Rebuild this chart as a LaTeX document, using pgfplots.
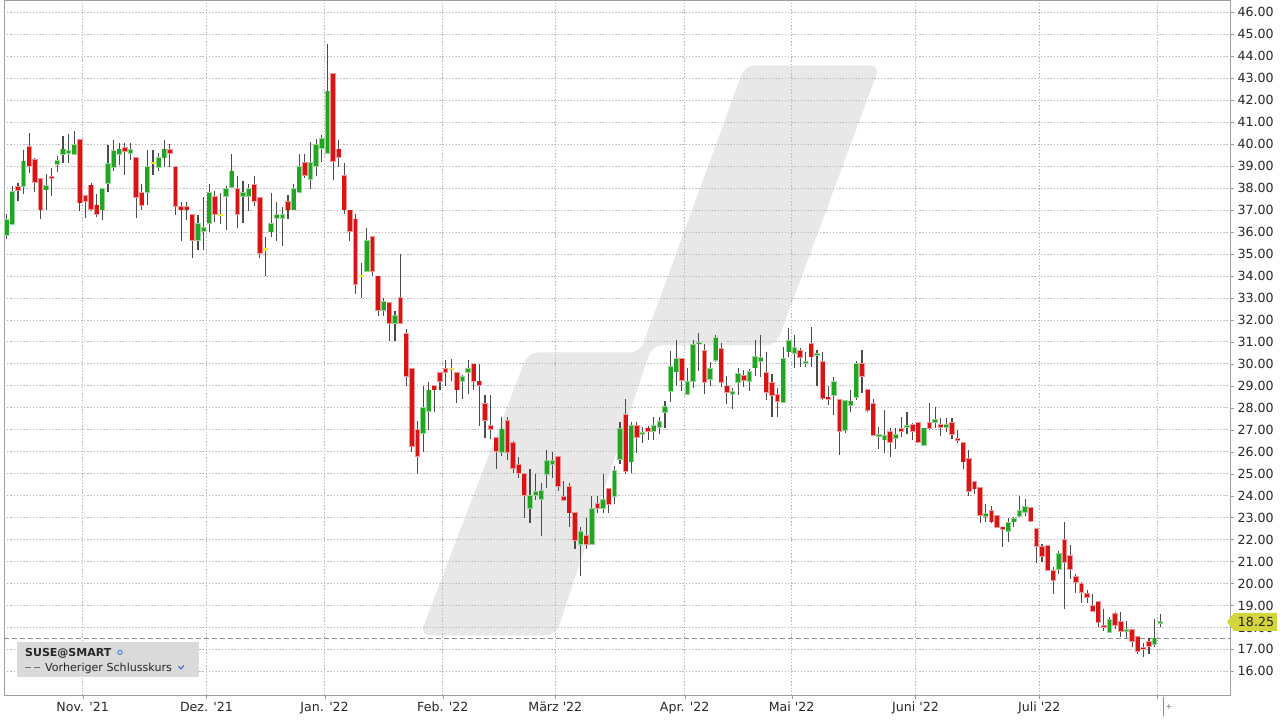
\documentclass[border=0pt]{standalone}
\usepackage{pgfplots}
\pgfplotsset{compat=1.18}
\usepackage{pgfplotstable}
\usepackage{fontspec}
\setmainfont{DejaVu Sans}
\definecolor{gBody}{RGB}{34,165,34}
\definecolor{gOut}{RGB}{150,212,150}
\definecolor{rBody}{RGB}{214,22,22}
\definecolor{rOut}{RGB}{240,150,150}
\definecolor{yBody}{RGB}{235,235,50}
\definecolor{wickc}{RGB}{75,75,75}
\definecolor{wm}{RGB}{232,232,232}
\definecolor{tagc}{RGB}{212,212,62}
\definecolor{iconblue}{RGB}{50,100,200}

\pgfplotstableread{
i o h l c
0 35.87 36.80 35.69 36.55
1 36.37 38.10 36.30 37.81
2 38.04 38.22 37.43 37.89
3 38.09 39.74 37.74 39.21
4 39.89 40.51 38.68 39.00
5 39.30 39.35 37.81 38.27
6 38.41 38.45 36.60 37.02
7 37.93 38.65 37.02 38.10
8 38.50 38.91 37.65 38.44
9 39.09 39.48 38.72 39.25
10 39.56 40.36 39.15 39.76
11 39.60 40.44 39.15 39.68
12 39.53 40.58 39.50 39.98
13 40.20 40.22 36.95 37.34
14 37.65 37.70 36.63 37.39
15 38.12 38.24 36.95 37.05
16 37.21 37.71 36.68 36.83
17 37.02 38.00 36.55 37.97
18 38.24 39.98 37.81 39.10
19 38.95 40.21 38.80 39.68
20 39.56 40.06 39.07 39.76
21 39.82 40.06 38.60 39.68
22 39.60 40.06 39.29 39.74
23 39.38 39.40 36.63 37.59
24 37.78 38.19 36.98 37.24
25 37.81 39.74 37.21 38.98
26 39.15 39.74 38.60 39.15
27 38.97 39.60 38.77 39.36
28 39.39 40.20 38.97 39.76
29 39.74 40.00 38.97 39.59
30 38.97 38.97 36.77 37.20
31 37.15 37.38 35.58 37.02
32 37.15 37.38 36.56 37.02
33 36.77 36.77 34.80 35.64
34 35.64 36.77 35.18 36.36
35 36.03 37.58 35.18 36.18
36 36.41 38.18 35.98 37.77
37 37.58 37.88 36.44 36.82
38 36.77 37.77 36.36 36.77
39 37.62 38.11 36.11 37.95
40 38.03 39.55 38.00 38.76
41 37.95 38.56 36.18 36.82
42 37.62 38.33 36.39 37.76
43 37.62 38.18 36.97 37.95
44 38.15 38.56 37.20 37.39
45 37.55 37.55 34.80 35.03
46 35.20 35.79 34.00 35.20
47 36.02 37.77 35.79 36.36
48 36.62 37.38 35.61 36.77
49 36.62 37.15 35.38 36.77
50 37.38 37.68 36.59 37.02
51 37.02 38.18 37.00 37.95
52 37.80 39.55 37.80 38.97
53 39.14 39.55 38.48 38.61
54 38.41 40.08 37.95 39.14
55 39.00 40.22 38.57 39.97
56 39.82 40.43 39.18 40.22
57 39.61 44.58 39.60 42.40
58 43.18 43.20 38.38 39.21
59 39.76 40.20 38.98 39.41
60 38.57 39.15 36.80 37.02
61 36.98 37.00 35.58 36.04
62 36.57 36.80 33.18 33.64
63 33.98 34.59 33.00 33.98
64 34.24 36.19 34.20 35.58
65 35.79 35.80 33.98 34.24
66 33.98 34.00 32.19 32.45
67 32.45 33.00 32.19 32.80
68 32.77 32.80 31.05 31.84
69 31.84 32.39 31.05 32.19
70 33.00 35.00 31.80 31.84
71 31.37 31.57 28.98 29.44
72 29.78 29.80 25.98 26.25
73 27.00 27.39 24.99 25.82
74 26.84 28.97 26.00 28.00
75 27.84 29.17 27.00 28.79
76 28.98 29.00 27.80 28.83
77 29.58 29.60 28.79 29.21
78 29.78 30.19 28.98 29.62
79 29.75 30.20 29.21 29.75
80 29.58 29.60 28.21 28.83
81 29.21 29.50 28.41 29.40
82 29.62 30.19 28.64 29.78
83 29.97 30.00 28.79 29.21
84 29.20 29.97 27.19 29.02
85 28.18 28.59 26.61 27.45
86 27.19 28.59 26.58 27.01
87 26.61 26.61 25.22 26.02
88 26.00 27.60 25.82 27.01
89 27.39 27.60 25.63 26.00
90 26.40 26.50 25.02 25.26
91 25.39 25.77 24.79 25.02
92 24.97 25.00 22.97 24.02
93 23.42 25.20 22.77 23.98
94 24.02 24.97 23.79 24.18
95 23.83 24.59 22.17 24.21
96 25.00 26.06 24.36 25.58
97 25.42 26.00 24.79 25.58
98 25.77 25.80 24.21 24.44
99 23.95 24.67 23.79 23.80
100 24.39 24.59 22.55 23.23
101 23.20 23.20 21.56 21.98
102 21.79 22.58 20.35 22.36
103 22.17 23.00 21.56 21.79
104 21.79 23.98 21.79 23.41
105 23.61 23.98 23.23 23.42
106 23.42 25.00 23.23 23.80
107 24.32 24.32 23.23 23.61
108 23.98 25.35 23.61 25.12
109 25.65 27.36 25.45 27.02
110 27.67 28.38 25.00 25.12
111 25.55 27.36 25.05 27.17
112 27.17 27.36 25.95 26.67
113 26.80 27.14 26.38 26.85
114 27.06 27.18 26.55 26.95
115 26.95 27.56 26.55 27.18
116 27.14 27.56 26.80 27.36
117 27.79 28.32 27.08 28.05
118 28.77 30.59 28.27 29.86
119 29.65 31.09 29.00 30.24
120 30.21 30.21 28.74 29.26
121 28.62 29.83 28.60 29.18
122 29.23 31.09 28.92 30.86
123 30.92 31.39 29.68 30.97
124 30.59 30.89 28.62 29.15
125 29.30 30.06 29.00 29.76
126 30.17 31.32 30.06 31.17
127 30.67 30.97 28.95 29.18
128 28.97 29.45 28.17 28.70
129 28.62 28.92 27.94 28.73
130 29.15 29.79 28.59 29.53
131 29.45 29.71 28.95 29.27
132 29.23 29.76 28.77 29.64
133 29.83 31.09 29.45 30.32
134 30.11 31.32 29.38 30.26
135 29.58 30.56 28.35 28.70
136 29.12 29.53 27.56 28.59
137 28.59 28.92 27.56 28.29
138 28.27 30.77 28.27 30.24
139 30.56 31.61 30.33 31.05
140 30.47 31.32 29.80 30.71
141 30.59 30.71 29.86 30.29
142 30.02 30.56 29.86 30.09
143 30.92 31.68 29.86 30.33
144 30.39 30.62 29.00 30.44
145 30.09 30.52 28.36 28.44
146 28.47 28.97 28.12 28.41
147 28.59 29.38 27.68 29.18
148 28.35 28.35 25.85 26.95
149 26.98 28.35 26.83 28.32
150 28.14 28.80 27.79 28.29
151 28.47 30.11 28.36 29.98
152 29.98 30.62 28.65 29.45
153 28.82 28.82 27.79 27.89
154 28.17 28.42 26.76 26.76
155 26.71 27.14 26.12 26.77
156 26.55 27.89 25.92 26.73
157 26.91 27.08 25.77 26.42
158 26.62 27.08 26.12 26.76
159 27.03 27.59 26.68 26.95
160 27.11 27.79 26.80 27.17
161 27.23 27.29 26.53 26.92
162 27.30 27.33 26.40 26.42
163 26.32 27.06 26.32 27.06
164 27.30 28.20 26.98 27.09
165 27.33 28.02 27.08 27.44
166 27.23 27.53 26.73 27.14
167 27.14 27.53 26.88 27.23
168 27.29 27.53 26.58 26.80
169 26.59 26.98 26.41 26.53
170 26.38 26.38 25.23 25.55
171 25.65 26.08 23.98 24.21
172 24.62 24.62 24.06 24.32
173 24.33 24.33 22.77 23.11
174 23.08 23.61 22.79 23.15
175 23.30 23.53 22.77 22.82
176 23.08 23.08 22.55 22.58
177 22.55 22.55 21.67 22.47
178 22.39 22.97 21.89 22.77
179 22.82 23.03 22.58 22.92
180 23.08 23.98 23.03 23.30
181 23.24 23.83 23.08 23.50
182 23.42 23.42 22.82 22.85
183 22.47 22.47 20.95 21.71
184 21.68 21.79 20.98 21.26
185 21.71 21.71 20.62 20.62
186 20.58 20.73 19.52 20.17
187 20.65 21.48 20.45 21.33
188 21.98 22.80 18.86 20.98
189 21.26 21.76 20.20 20.65
190 20.30 20.45 19.56 20.05
191 19.97 20.05 19.11 19.59
192 19.52 19.70 19.11 19.39
193 18.98 19.52 18.68 18.76
194 19.18 19.18 18.00 18.23
195 18.08 18.86 17.82 18.03
196 17.77 18.48 17.77 18.33
197 18.61 18.68 17.92 18.12
198 18.23 18.71 17.58 17.82
199 17.85 18.30 17.52 17.89
200 17.88 17.88 17.12 17.39
201 17.58 17.58 16.79 16.94
202 17.06 17.27 16.64 17.03
203 17.32 17.52 16.79 17.14
204 17.24 18.38 17.09 17.50
205 18.20 18.61 18.00 18.25
}\candles

\begin{document}
\begin{tikzpicture}[x=1pt,y=1pt]
\begin{axis}[
  set layers,
  at={(0,0)}, anchor=south west, scale only axis,
  width=1226pt, height=695pt,
  xmin=-0.48, xmax=217.4, ymin=14.908, ymax=46.546,
  axis line style={draw=black!38},
  xtick={13.5,35.5,56.5,77.5,97.5,120.5,139.5,161.5,183.5,204.5},
  xticklabels={Nov. \textquotesingle21,Dez. \textquotesingle21,Jan. \textquotesingle22,Feb. \textquotesingle22,März \textquotesingle22,Apr. \textquotesingle22,Mai \textquotesingle22,Juni \textquotesingle22,Juli \textquotesingle22,{}},
  ytick={16,17,...,46},
  yticklabel pos=right, ytick pos=right, xtick pos=left,
  tick align=outside, major tick length=4pt,
  major tick style={draw=black!38},
  grid=major,
  major grid style={draw=black!28, line width=0.7pt, dash pattern=on 1.3pt off 1.9pt},
  ticklabel style={font=\fontsize{12.6}{14}\selectfont, text=black!85},
  xticklabel style={yshift=1pt},
  scaled y ticks=false,
  /pgf/number format/fixed,
  /pgf/number format/fixed zerofill,
  /pgf/number format/precision=2,
  /pgf/number format/assume math mode=true,
]
\coordinate (BL) at (rel axis cs:0,0);
% watermark logo behind the grid
\begin{pgfonlayer}{axis background}
\fill[wm, rounded corners=10pt] (axis cs:73.45,17.64) -- (axis cs:92.65,30.52) -- (axis cs:112.55,30.52) -- (axis cs:131.21,43.59) -- (axis cs:155.20,43.59) -- (axis cs:136.72,30.84) -- (axis cs:114.68,30.84) -- (axis cs:97.62,17.64) -- cycle;
\end{pgfonlayer}
% previous close
\addplot[draw=black!45, line width=0.9pt, dash pattern=on 5pt off 3pt, forget plot] coordinates {(-0.48,17.49) (217.4,17.49)};
% wicks
\addplot[draw=none, mark=none, forget plot,
  error bars/.cd, y dir=minus, y explicit, error mark=none,
  error bar style={line width=1.1pt, color=wickc, solid}]
  table[x=i, y=h, y error minus expr={\thisrow{h}-\thisrow{l}}] {\candles};
% green bodies
\addplot[draw=none, mark=none, forget plot,
  restrict expr to domain={\thisrow{c}-\thisrow{o}}{0.001:100},
  error bars/.cd, y dir=minus, y explicit, error mark=none,
  error bar style={line width=5.4pt, color=gOut, solid}]
  table[x=i, y expr={max(\thisrow{o},\thisrow{c})+0.04}, y error minus expr={max(abs(\thisrow{c}-\thisrow{o}),0.05)+0.08}] {\candles};
\addplot[draw=none, mark=none, forget plot,
  restrict expr to domain={\thisrow{c}-\thisrow{o}}{0.001:100},
  error bars/.cd, y dir=minus, y explicit, error mark=none,
  error bar style={line width=3.8pt, color=gBody, solid}]
  table[x=i, y expr={max(\thisrow{o},\thisrow{c})}, y error minus expr={max(abs(\thisrow{c}-\thisrow{o}),0.05)}] {\candles};
% red bodies
\addplot[draw=none, mark=none, forget plot,
  restrict expr to domain={\thisrow{c}-\thisrow{o}}{-100:-0.001},
  error bars/.cd, y dir=minus, y explicit, error mark=none,
  error bar style={line width=5.4pt, color=rOut, solid}]
  table[x=i, y expr={max(\thisrow{o},\thisrow{c})+0.04}, y error minus expr={max(abs(\thisrow{c}-\thisrow{o}),0.05)+0.08}] {\candles};
\addplot[draw=none, mark=none, forget plot,
  restrict expr to domain={\thisrow{c}-\thisrow{o}}{-100:-0.001},
  error bars/.cd, y dir=minus, y explicit, error mark=none,
  error bar style={line width=3.8pt, color=rBody, solid}]
  table[x=i, y expr={max(\thisrow{o},\thisrow{c})}, y error minus expr={max(abs(\thisrow{c}-\thisrow{o}),0.05)}] {\candles};
% unchanged (doji) bodies
\addplot[draw=none, mark=none, forget plot,
  restrict expr to domain={\thisrow{c}-\thisrow{o}}{-0.0005:0.0005},
  error bars/.cd, y dir=minus, y explicit, error mark=none,
  error bar style={line width=5pt, color=yBody, solid}]
  table[x=i, y expr={\thisrow{o}+0.05}, y error minus expr={0.1}] {\candles};
\end{axis}
\begin{scope}[shift={(BL)}, shift={(-4,-25)}]
\useasboundingbox (0,0) rectangle (1280,720);
% price tag
\fill[tagc] (1227,98.4) -- (1234,107.4) -- (1277,107.4) -- (1277,89.4) -- (1234,89.4) -- cycle;
\node[font=\fontsize{12.6}{14}\selectfont, text=black!85, anchor=center] at (1256,98.4) {18.25};
% legend box
\fill[black!16, opacity=0.9] (17,43) rectangle (199,78);
\node[font=\bfseries\fontsize{11}{13}\selectfont, text=black!85, anchor=base west, inner sep=0] at (25,64.3) {SUSE@SMART};
\fill[iconblue!70] (120,68) circle (2.8);
\fill[white] (120,68) circle (1.3);
\draw[black!55, line width=1pt] (25,52.6) -- (31,52.6) (34,52.6) -- (40,52.6);
\node[font=\fontsize{11.1}{13}\selectfont, text=black!85, anchor=base west, inner sep=0] at (45,49) {Vorheriger Schlusskurs};
\draw[iconblue, line width=1pt] (178.5,54) -- (181,51.5) -- (184,55);
% current marker below axis
\draw[black!45, line width=0.8pt] (1163,23) -- (1163,4);
\node[font=\fontsize{8}{9}\selectfont, text=black!55] at (1169,13) {+};
\end{scope}
\end{tikzpicture}
\end{document}
